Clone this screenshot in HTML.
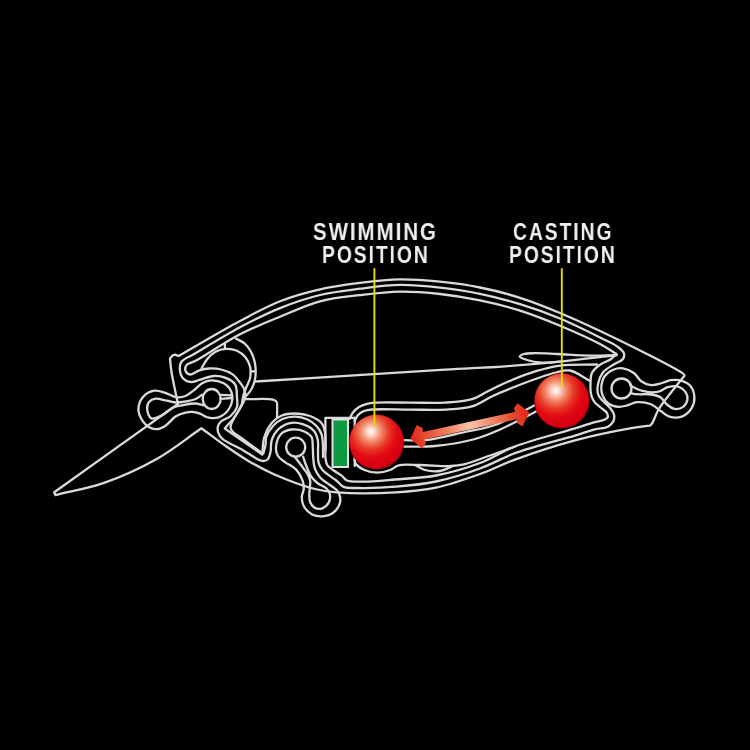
<!DOCTYPE html>
<html><head><meta charset="utf-8">
<style>
html,body{margin:0;padding:0;background:#000;width:750px;height:750px;overflow:hidden}
.t{position:absolute;font-family:"Liberation Sans",sans-serif;font-weight:bold;color:#f0f0f0;font-size:23px;letter-spacing:2.3px;line-height:24px;white-space:nowrap;transform-origin:0 0;will-change:transform;-webkit-font-smoothing:antialiased}
svg{position:absolute;left:0;top:0}
</style></head><body>
<svg width="750" height="750" viewBox="0 0 750 750">
<g>
<ellipse cx="211.7" cy="399" rx="9" ry="10" fill="none" stroke="#dadada" stroke-width="2.3"/>
<path d="M211.00,380.30 C207.87,380.42 205.19,381.51 202.50,383.00 C199.49,384.66 196.89,388.00 194.00,390.20 C191.22,392.32 188.57,394.86 185.50,396.00 C182.52,397.11 179.13,397.54 175.90,397.10 C172.37,396.62 168.82,393.87 165.20,392.80 C161.68,391.76 158.03,390.15 154.50,390.70 C150.63,391.30 145.66,393.79 143.00,397.00 C140.19,400.39 138.09,406.35 138.50,410.90 C138.93,415.63 142.60,421.76 146.00,424.80 C148.91,427.40 153.33,429.06 156.70,429.10 C159.69,429.13 162.37,427.62 165.20,425.90 C168.77,423.74 172.22,418.56 175.90,416.30 C179.02,414.39 182.57,413.33 185.50,412.60 C187.84,412.01 189.73,411.69 192.00,411.80 C194.54,411.93 197.54,412.69 200.00,413.60 C202.31,414.46 204.14,416.23 206.40,417.00 C208.67,417.77 211.15,418.33 213.60,418.20 C216.21,418.07 219.21,417.29 221.60,416.00 C224.02,414.70 226.33,412.59 228.00,410.40 C229.65,408.25 230.89,405.50 231.60,403.00 C232.25,400.69 232.58,398.33 232.30,396.00 C232.00,393.56 231.11,390.80 229.70,388.70 C228.26,386.55 226.29,384.65 223.70,383.30 C220.41,381.58 214.79,380.16 211.00,380.30Z" fill="none" stroke="#dadada" stroke-width="2.3" stroke-linejoin="round" stroke-linecap="round"/>
<path d="M202.20,394.70 C199.80,396.23 197.67,398.18 195.00,399.30 C192.14,400.50 188.69,400.97 185.50,401.50 C182.32,402.03 179.17,402.66 175.90,402.50 C172.42,402.33 168.68,400.95 165.20,400.30 C161.92,399.69 158.44,398.27 155.60,398.70 C153.13,399.07 150.42,400.28 149.00,402.00 C147.62,403.68 146.93,406.37 147.10,408.80 C147.31,411.76 148.89,417.28 151.30,418.40 C153.79,419.55 158.56,416.86 162.00,415.20 C165.72,413.40 168.98,409.41 172.70,407.70 C176.10,406.14 179.66,405.69 183.30,405.00 C187.08,404.28 191.38,403.37 195.00,403.50 C198.18,403.61 200.93,404.70 203.90,405.30" fill="none" stroke="#dadada" stroke-width="2.3" stroke-linejoin="round" stroke-linecap="round"/>
<path d="M220.5,394.8 L232,395.4" fill="none" stroke="#dadada" stroke-width="2.3" stroke-linejoin="round" stroke-linecap="round"/>
<path d="M220.5,398.8 L232,398" fill="none" stroke="#dadada" stroke-width="2.3" stroke-linejoin="round" stroke-linecap="round"/>
<path d="M181.40,361.70 C183.68,358.63 189.14,357.06 195.00,353.60 C205.63,347.33 225.29,335.11 240.00,327.30 C253.58,320.09 266.49,313.53 280.00,308.10 C293.16,302.81 306.54,298.24 320.00,295.00 C333.21,291.82 346.64,290.38 360.00,288.70 C373.31,287.02 386.66,285.08 400.00,284.90 C413.33,284.72 426.70,286.12 440.00,287.60 C453.37,289.08 466.74,291.05 480.00,293.80 C493.40,296.57 506.76,300.12 520.00,304.20 C533.43,308.34 546.80,313.02 560.00,318.50 C573.47,324.09 589.22,332.06 600.00,337.50 C607.46,341.26 614.55,344.22 618.70,347.50 C621.25,349.52 623.45,351.37 624.00,353.50 C624.47,355.34 623.94,357.62 622.70,359.30 C621.03,361.57 616.46,362.61 613.30,364.70 C609.80,367.01 605.24,369.45 602.70,372.70 C600.34,375.73 598.97,379.68 598.20,383.30 C597.46,386.79 597.14,391.05 598.00,394.00 C598.71,396.42 600.77,398.49 602.00,400.00 C602.85,401.03 603.43,401.43 604.40,402.40 C605.88,403.88 608.39,405.97 610.00,408.00 C611.57,409.98 613.48,412.11 614.00,414.40 C614.51,416.65 614.17,419.58 613.20,421.60 C612.26,423.56 610.67,425.15 608.40,426.40 C605.05,428.24 599.10,428.23 594.00,429.60 C588.07,431.19 583.12,433.13 575.00,435.60 C560.61,439.98 532.15,446.96 515.00,453.20 C501.59,458.07 492.49,463.95 480.00,468.50 C466.32,473.49 450.44,478.45 436.00,481.50 C422.46,484.36 409.21,485.62 396.00,486.70 C383.12,487.75 367.29,488.22 357.70,488.00 C351.91,487.87 347.53,488.45 343.80,486.90 C340.66,485.60 339.22,482.84 336.30,480.50 C332.44,477.40 325.49,473.63 322.50,470.10 C320.41,467.63 319.37,465.41 318.60,462.60 C317.73,459.43 318.13,455.55 318.00,451.90 C317.86,448.09 318.55,443.80 317.80,440.20 C317.11,436.88 316.20,433.56 314.00,431.00 C311.47,428.06 306.75,425.51 302.70,424.20 C298.71,422.90 293.96,422.25 289.90,423.10 C285.75,423.97 281.16,426.57 278.10,429.50 C275.15,432.33 272.96,436.40 271.70,440.20 C270.47,443.91 271.34,448.56 270.50,452.00 C269.80,454.84 269.13,458.06 267.50,459.50 C266.16,460.69 264.44,461.18 262.20,460.90 C257.71,460.34 249.54,453.85 243.00,450.20 C236.16,446.39 225.97,442.26 222.00,438.50 C219.84,436.46 218.85,434.64 218.20,432.50 C217.57,430.46 217.46,427.89 218.00,426.00 C218.49,424.27 219.49,422.91 221.00,421.50 C223.16,419.48 227.93,418.42 230.60,416.00 C233.26,413.58 235.99,410.17 237.00,407.00 C237.91,404.14 237.23,401.30 237.00,398.00 C236.72,393.92 237.19,387.81 235.10,384.40 C233.20,381.30 229.28,379.30 225.80,377.90 C222.18,376.44 217.87,375.77 213.70,376.00 C209.13,376.26 203.64,378.82 199.50,379.90 C196.31,380.73 193.78,382.32 191.00,382.00 C188.10,381.67 184.37,379.97 182.50,377.70 C180.59,375.38 179.84,370.98 179.80,368.10 C179.77,365.76 179.93,363.68 181.40,361.70Z" fill="none" stroke="#dadada" stroke-width="2.3" stroke-linejoin="round" stroke-linecap="round"/>
<path d="M186.70,364.90 C188.18,362.95 191.20,363.09 195.00,361.10 C204.09,356.33 225.21,341.92 240.00,334.30 C253.51,327.34 266.60,322.22 280.00,316.70 C293.27,311.23 306.47,304.91 320.00,301.30 C333.15,297.79 346.64,296.72 360.00,295.10 C373.31,293.49 386.66,291.78 400.00,291.60 C413.33,291.42 426.70,292.54 440.00,294.00 C453.37,295.47 466.73,297.65 480.00,300.40 C493.40,303.17 506.78,306.43 520.00,310.60 C533.45,314.84 546.76,320.18 560.00,325.70 C573.43,331.30 589.69,338.54 600.00,344.00 C606.83,347.61 611.00,350.67 616.50,354.00 C614.57,355.77 613.06,357.67 610.70,359.30 C607.78,361.31 603.15,362.42 600.00,364.70 C596.94,366.91 593.58,369.49 592.00,372.70 C590.41,375.92 590.65,380.34 590.50,384.00 C590.36,387.43 590.42,391.13 591.00,394.00 C591.47,396.29 592.31,398.36 593.20,400.00 C593.90,401.29 594.56,402.09 595.60,403.20 C597.02,404.71 599.33,406.40 601.20,408.00 C603.07,409.60 605.78,411.00 606.80,412.80 C607.63,414.27 608.16,416.40 607.60,417.60 C607.06,418.78 605.28,419.30 603.60,420.00 C601.15,421.02 597.72,421.35 594.00,422.40 C588.72,423.89 583.12,425.89 575.00,428.40 C560.61,432.84 532.11,439.93 515.00,446.50 C501.55,451.67 492.54,458.30 480.00,463.00 C466.37,468.11 450.53,472.75 436.00,475.50 C422.21,478.11 407.83,478.45 395.00,479.50 C383.68,480.42 371.84,481.61 363.00,481.60 C356.75,481.59 350.72,482.10 347.00,480.50 C344.51,479.42 343.77,477.20 341.70,475.60 C339.23,473.68 335.55,471.90 333.00,470.00 C330.81,468.36 328.45,467.04 327.20,465.00 C325.99,463.02 325.82,460.71 325.50,458.00 C325.06,454.35 325.58,449.33 325.50,445.00 C325.42,440.67 325.80,435.88 325.00,432.00 C324.31,428.66 323.62,425.53 321.50,423.00 C319.00,420.01 314.24,417.58 310.00,416.00 C305.52,414.33 300.06,413.53 295.20,413.50 C290.50,413.48 285.32,413.97 281.30,415.70 C277.57,417.31 274.42,419.89 271.70,423.10 C268.60,426.76 265.89,431.94 264.30,437.00 C262.62,442.35 262.90,448.67 262.20,454.50 C249.73,445.83 237.27,437.17 224.80,428.50 C226.20,426.83 227.62,425.03 229.00,423.50 C230.25,422.12 231.35,421.40 232.70,419.70 C234.89,416.94 238.07,411.81 240.20,408.00 C242.10,404.60 244.37,401.23 245.00,398.00 C245.53,395.26 245.25,392.45 244.50,390.00 C243.78,387.63 242.36,385.78 240.70,383.50 C238.55,380.55 235.61,376.44 232.30,374.10 C229.06,371.81 224.98,370.43 221.10,369.50 C217.21,368.57 212.78,368.30 209.00,368.50 C205.63,368.68 202.61,369.33 199.50,370.30 C196.27,371.30 192.48,374.78 190.00,374.50 C188.21,374.30 186.31,372.78 185.70,371.30 C185.03,369.67 185.45,366.55 186.70,364.90Z" fill="none" stroke="#dadada" stroke-width="2.3" stroke-linejoin="round" stroke-linecap="round"/>
<path d="M201.50,368.50 C203.37,365.40 204.80,361.98 207.10,359.20 C209.45,356.37 212.33,353.42 215.50,351.70 C218.58,350.03 222.28,349.07 225.80,348.90 C229.44,348.72 233.69,349.35 237.00,350.80 C240.20,352.20 243.21,354.64 245.40,357.30 C247.57,359.95 249.30,363.33 250.10,366.70 C250.92,370.18 250.80,374.33 250.10,377.90 C249.41,381.42 247.20,384.82 246.00,388.00 C244.94,390.81 243.94,393.23 243.20,396.00 C242.43,398.88 242.55,402.08 241.50,405.00 C240.38,408.09 238.08,411.19 236.50,414.00 C235.10,416.48 233.52,418.65 232.50,421.00 C231.57,423.16 230.30,425.57 230.50,427.50 C230.68,429.18 231.74,430.59 233.00,432.00 C234.63,433.82 237.06,434.88 240.00,437.00 C245.05,440.65 253.67,447.00 260.50,452.00 C261.43,452.50 262.37,453.00 263.30,453.50 C264.03,450.67 265.02,447.81 265.50,445.00 C265.96,442.31 265.26,439.79 266.20,437.00 C267.43,433.37 270.60,428.58 273.50,425.50 C276.12,422.72 279.06,420.48 282.50,419.00 C286.22,417.40 291.05,416.52 295.20,416.60 C299.21,416.68 303.42,417.70 307.00,419.30 C310.51,420.86 314.03,423.38 316.50,426.00 C318.73,428.36 320.43,430.99 321.50,434.00 C322.66,437.26 322.65,441.25 322.90,445.00 C323.16,448.91 322.97,453.00 323.00,457.00" fill="none" stroke="#dadada" stroke-width="2.3" stroke-linejoin="round" stroke-linecap="round"/>
<path d="M236.10,338.70 C238.90,340.23 242.06,341.22 244.50,343.30 C247.07,345.49 249.31,348.61 251.00,351.70 C252.72,354.84 253.92,358.52 254.70,362.00 C255.46,365.39 255.74,369.04 255.70,372.30 C255.67,375.24 255.42,377.88 254.70,380.70 C253.92,383.77 252.67,387.24 251.00,390.00 C249.40,392.65 247.00,394.67 245.00,397.00" fill="none" stroke="#dadada" stroke-width="2.3" stroke-linejoin="round" stroke-linecap="round"/>
<path d="M224.9,343.5 L224.9,348.5" fill="none" stroke="#dadada" stroke-width="2.3" stroke-linejoin="round" stroke-linecap="round"/>
<path d="M250.5,371.3 L255.3,371.3" fill="none" stroke="#dadada" stroke-width="2.3" stroke-linejoin="round" stroke-linecap="round"/>
<path d="M255.50,381.50 C318.67,377.57 399.51,372.41 445.00,369.70 C470.59,368.18 485.44,367.69 505.00,366.30 C523.74,364.97 541.56,363.43 560.00,361.60 C578.72,359.74 597.67,357.33 616.50,355.20" fill="none" stroke="#dadada" stroke-width="2.3" stroke-linejoin="round" stroke-linecap="round"/>
<path d="M616.50,355.20 C607.67,355.33 599.31,355.76 590.00,355.60 C579.60,355.43 566.89,354.42 557.00,354.00 C548.93,353.66 541.07,353.09 535.00,353.20 C530.70,353.28 526.75,353.15 524.00,354.00 C522.15,354.57 519.67,355.63 519.70,356.50 C519.74,357.61 524.06,359.06 527.00,360.00 C531.04,361.29 536.75,362.30 542.00,362.60 C547.71,362.93 554.00,361.93 560.00,361.60" fill="none" stroke="#dadada" stroke-width="2.3" stroke-linejoin="round" stroke-linecap="round"/>
<path d="M245.00,399.20 C254.33,399.33 268.12,398.12 273.00,399.60 C274.94,400.19 275.98,400.78 276.70,402.00 C277.54,403.43 277.03,405.80 277.10,408.00 C277.19,410.70 277.10,414.00 277.10,417.00" fill="none" stroke="#dadada" stroke-width="2.3" stroke-linejoin="round" stroke-linecap="round"/>
<circle cx="295.7" cy="447.2" r="9.5" fill="none" stroke="#dadada" stroke-width="2.3"/>
<path d="M295.00,457.00 C297.90,460.90 301.35,465.47 303.70,468.70 C305.34,470.96 306.71,472.44 307.80,474.50 C308.87,476.54 309.86,478.76 310.20,481.00 C310.54,483.26 309.95,485.67 309.80,488.00 C309.65,490.33 309.24,492.65 309.30,495.00 C309.36,497.41 309.26,500.15 310.20,502.30 C311.13,504.45 312.89,506.90 314.90,507.90 C316.92,508.91 320.05,509.10 322.30,508.30 C324.76,507.42 327.66,504.74 328.90,502.30 C330.10,499.94 330.33,496.41 329.80,494.00 C329.34,491.89 328.13,490.11 326.50,488.50 C324.48,486.50 320.53,485.46 318.00,483.50 C315.55,481.61 313.20,479.36 311.50,477.00 C309.93,474.83 309.06,472.36 308.00,470.00 C306.96,467.69 306.02,465.28 305.20,463.00 C304.44,460.88 303.87,458.87 303.20,456.80" fill="none" stroke="#dadada" stroke-width="2.3" stroke-linejoin="round" stroke-linecap="round"/>
<path d="M276.00,447.70 C276.23,443.67 278.07,437.04 281.00,434.00 C283.64,431.26 288.13,429.92 292.00,429.50 C296.05,429.06 301.37,430.17 304.80,431.70 C307.58,432.94 310.14,434.57 311.50,437.00 C313.03,439.73 312.52,444.21 312.80,447.70 C313.07,451.03 312.88,454.13 313.20,457.50 C313.55,461.12 313.66,465.25 314.90,468.70 C316.12,472.07 318.02,475.28 320.50,478.00 C323.18,480.94 327.61,483.03 330.70,485.50 C333.44,487.69 336.63,489.25 338.20,492.00 C339.81,494.82 340.76,499.00 340.10,502.30 C339.39,505.85 336.50,510.17 333.50,512.50 C330.54,514.80 325.98,516.04 322.30,516.30 C318.85,516.55 315.12,515.99 312.10,514.40 C308.87,512.70 305.40,509.15 303.70,506.00 C302.18,503.18 301.73,499.63 301.80,496.70 C301.86,494.06 303.53,491.79 303.70,489.20 C303.88,486.50 303.67,483.70 302.70,480.80 C301.50,477.22 299.11,472.70 296.20,469.60 C293.24,466.44 288.23,464.57 285.00,462.10 C282.32,460.05 279.50,458.47 278.00,456.00 C276.56,453.63 275.82,450.78 276.00,447.70Z" fill="none" stroke="#dadada" stroke-width="2.3" stroke-linejoin="round" stroke-linecap="round"/>
<circle cx="621.5" cy="388.5" r="10" fill="none" stroke="#dadada" stroke-width="2.3"/>
<path d="M601.30,387.20 C601.54,383.71 602.71,378.96 604.80,376.00 C606.78,373.20 610.11,370.98 613.20,369.70 C616.20,368.46 619.69,367.85 623.00,368.30 C626.68,368.80 631.10,370.93 634.20,373.20 C637.09,375.31 638.39,379.22 641.20,381.20 C644.00,383.18 647.57,384.77 651.00,385.10 C654.56,385.45 658.76,383.89 662.20,383.00 C665.23,382.21 667.76,380.66 670.60,380.20 C673.36,379.75 676.08,379.51 679.00,380.20 C682.56,381.04 687.63,382.95 690.20,385.80 C692.71,388.59 694.19,393.23 694.40,397.00 C694.61,400.70 693.58,404.99 691.60,408.20 C689.51,411.59 685.56,415.21 681.80,416.60 C678.08,417.97 672.83,417.70 669.20,416.60 C665.95,415.62 663.70,412.96 660.80,411.00 C657.65,408.88 654.75,405.77 651.00,404.30 C646.91,402.69 641.21,401.85 637.00,402.20 C633.40,402.50 630.37,404.62 627.20,405.40 C624.32,406.11 621.69,406.96 618.80,406.80 C615.64,406.62 611.67,405.84 609.00,404.00 C606.29,402.13 603.97,398.56 602.70,395.60 C601.56,392.93 601.09,390.18 601.30,387.20Z" fill="none" stroke="#dadada" stroke-width="2.3" stroke-linejoin="round" stroke-linecap="round"/>
<path d="M630.20,385.30 C632.13,386.37 633.97,387.58 636.00,388.50 C638.09,389.45 640.17,390.28 642.60,390.90 C645.42,391.62 649.09,392.25 652.00,392.30 C654.50,392.34 656.60,392.20 659.00,391.50 C661.83,390.67 664.70,388.03 667.80,387.20 C670.90,386.37 674.61,385.62 677.60,386.50 C680.69,387.41 684.42,390.30 686.00,392.80 C687.30,394.86 687.79,397.54 687.40,399.80 C686.98,402.22 685.25,405.28 683.20,406.80 C681.09,408.36 677.52,409.29 674.80,408.90 C671.91,408.49 668.78,405.98 666.40,404.00 C664.16,402.14 663.20,399.07 660.80,397.50 C658.17,395.79 654.60,395.08 651.00,394.50 C646.79,393.82 640.77,394.53 637.00,394.20 C634.41,393.97 632.67,393.53 630.50,393.20" fill="none" stroke="#dadada" stroke-width="2.3" stroke-linejoin="round" stroke-linecap="round"/>
<path d="M349.60,418.90 C350.73,416.77 351.50,414.44 353.00,412.50 C354.59,410.45 356.71,408.44 359.00,407.00 C361.36,405.52 364.29,404.53 367.00,403.80 C369.63,403.09 371.38,402.87 375.00,402.60 C382.53,402.04 398.33,402.60 410.00,402.60 C421.67,402.60 434.11,403.28 445.00,402.60 C454.60,402.00 464.34,401.52 472.00,399.20 C478.21,397.32 482.11,394.05 488.00,391.20 C495.17,387.73 503.93,383.36 512.00,380.00 C519.93,376.70 527.93,373.61 536.00,371.20 C543.93,368.83 551.07,366.76 560.00,365.60 C570.94,364.18 584.67,364.87 597.00,364.50" fill="none" stroke="#dadada" stroke-width="2.3" stroke-linejoin="round" stroke-linecap="round"/>
<path d="M354.90,420.50 C355.93,418.67 356.56,416.55 358.00,415.00 C359.54,413.34 361.75,411.92 364.00,411.00 C366.39,410.03 368.32,409.84 372.00,409.50 C379.95,408.77 397.59,409.58 410.00,409.60 C421.91,409.62 434.11,410.24 445.00,409.60 C454.60,409.03 463.78,408.86 472.00,406.40 C479.60,404.12 485.34,399.40 492.80,396.00 C501.20,392.18 511.18,388.23 520.00,384.80 C528.22,381.60 537.34,378.19 544.00,376.00 C548.66,374.47 551.81,373.41 556.00,372.50 C560.45,371.54 565.06,369.65 570.00,370.50 C576.24,371.58 583.33,377.50 590.00,381.00" fill="none" stroke="#dadada" stroke-width="2.3" stroke-linejoin="round" stroke-linecap="round"/>
<path d="M354.50,459.50 C355.00,461.00 354.93,462.56 356.00,464.00 C357.58,466.13 361.21,468.56 364.50,470.00 C368.19,471.61 373.03,472.70 377.30,472.70 C381.57,472.70 386.35,471.39 390.10,470.00 C393.35,468.80 395.05,466.26 398.70,465.30 C404.09,463.88 412.24,464.93 420.00,465.00 C429.37,465.09 442.89,466.40 451.00,466.00 C456.27,465.74 458.99,465.46 464.00,464.30 C471.25,462.62 481.43,458.49 490.00,455.50 C498.43,452.56 506.67,449.50 515.00,446.50" fill="none" stroke="#dadada" stroke-width="2.3" stroke-linejoin="round" stroke-linecap="round"/>
<path d="M416.00,465.50 C419.00,467.00 421.51,469.05 425.00,470.00 C429.27,471.16 435.25,471.72 440.00,471.00 C444.57,470.31 448.67,467.67 453.00,466.00" fill="none" stroke="#dadada" stroke-width="2.3" stroke-linejoin="round" stroke-linecap="round"/>
<path d="M404.00,440.20 C411.00,440.20 416.93,441.02 425.00,440.20 C436.25,439.06 452.64,434.71 465.00,432.00 C475.74,429.65 484.24,428.89 495.00,425.00 C508.75,420.03 525.00,410.00 540.00,402.50" fill="none" stroke="#dadada" stroke-width="2.3" stroke-linejoin="round" stroke-linecap="round"/>
<path d="M404.00,446.60 C414.33,446.40 424.05,447.06 435.00,446.00 C447.53,444.79 463.49,442.14 475.00,439.00 C484.15,436.51 490.05,433.90 499.00,430.00 C510.97,424.78 526.33,416.33 540.00,409.50" fill="none" stroke="#dadada" stroke-width="2.3" stroke-linejoin="round" stroke-linecap="round"/>
<rect x="332.5" y="419.5" width="15.5" height="47.5" fill="#0b9a42" stroke="#e0e0e0" stroke-width="2"/>
<path d="M325.4,450 L325.4,417.8 L355,417.8" fill="none" stroke="#dadada" stroke-width="2.3" stroke-linejoin="round" stroke-linecap="round"/>
<path d="M354.7,418 L354.7,466" fill="none" stroke="#dadada" stroke-width="2.3" stroke-linejoin="round" stroke-linecap="round"/>
<path d="M178.00,404.00 C175.83,393.33 172.82,380.42 171.50,372.00 C170.65,366.57 170.50,363.00 170.00,358.50 C170.90,357.43 171.80,356.37 172.70,355.30 C173.47,355.10 174.23,354.90 175.00,354.70 C176.23,355.13 177.47,355.57 178.70,356.00 C184.13,352.83 188.20,350.41 195.00,346.50 C206.26,340.03 225.34,328.78 240.00,321.00 C253.62,313.78 266.44,306.53 280.00,301.20 C293.12,296.05 306.57,292.38 320.00,289.30 C333.24,286.27 346.64,284.47 360.00,282.80 C373.30,281.14 386.66,279.48 400.00,279.30 C413.33,279.12 426.70,280.34 440.00,281.70 C453.36,283.07 466.74,284.84 480.00,287.50 C493.41,290.19 506.78,293.60 520.00,297.80 C533.45,302.07 544.52,306.44 560.00,313.00 C582.24,322.42 617.58,339.25 640.00,350.50 C656.64,358.85 678.34,369.61 682.90,373.50 C683.96,374.41 684.51,374.92 684.50,375.60 C684.49,376.25 683.77,376.52 683.00,377.50 C680.40,380.79 670.38,393.12 665.90,399.10 C662.82,403.21 660.64,405.81 658.40,409.70 C655.96,413.92 653.76,421.08 652.00,423.60 C651.23,424.71 650.60,425.00 649.90,425.70 C643.27,426.60 638.25,426.94 630.00,428.40 C616.19,430.84 593.61,435.40 575.00,440.40 C555.31,445.69 532.21,453.32 515.00,459.60 C501.66,464.47 492.44,469.53 480.00,474.00 C466.28,478.93 450.46,484.54 436.00,487.60 C422.48,490.46 410.69,491.44 396.00,492.30 C378.11,493.35 351.15,493.44 336.30,492.30 C327.38,491.61 323.10,491.05 315.00,489.00 C303.63,486.12 286.84,479.85 275.00,474.70 C265.04,470.37 256.58,465.73 248.30,460.90 C240.68,456.46 234.36,452.08 227.00,447.00 C218.79,441.33 209.93,434.53 201.40,428.30 C186.50,438.53 172.69,449.98 156.70,459.00 C140.08,468.38 120.89,477.09 103.30,483.20 C87.16,488.81 71.37,491.13 55.40,495.10 C55.00,494.17 54.60,493.23 54.20,492.30 C95.47,462.87 136.73,433.43 178.00,404.00Z" fill="none" stroke="#dadada" stroke-width="2.3" stroke-linejoin="round" stroke-linecap="round"/>
</g>
<defs><radialGradient id="g1" cx="371" cy="431.5" r="42.47" fx="371" fy="431.5" gradientUnits="userSpaceOnUse">
<stop offset="0" stop-color="#ffffff"/><stop offset="0.08" stop-color="#fcdcd0"/><stop offset="0.25" stop-color="#f28466"/><stop offset="0.42" stop-color="#e83a26"/><stop offset="0.6" stop-color="#e20a14"/><stop offset="0.8" stop-color="#d80012"/><stop offset="1" stop-color="#b0000c"/></radialGradient></defs>
<circle cx="376.5" cy="442" r="27.4" fill="url(#g1)" stroke="#5a0005" stroke-width="0.7" stroke-opacity="0.6"/>
<defs><radialGradient id="g2" cx="555.8" cy="390.6" r="42.625" fx="555.8" fy="390.6" gradientUnits="userSpaceOnUse">
<stop offset="0" stop-color="#ffffff"/><stop offset="0.08" stop-color="#fcdcd0"/><stop offset="0.25" stop-color="#f28466"/><stop offset="0.42" stop-color="#e83a26"/><stop offset="0.6" stop-color="#e20a14"/><stop offset="0.8" stop-color="#d80012"/><stop offset="1" stop-color="#b0000c"/></radialGradient></defs>
<circle cx="561.8" cy="400.8" r="27.5" fill="url(#g2)" stroke="#5a0005" stroke-width="0.7" stroke-opacity="0.6"/>
<defs><linearGradient id="ag" x1="0" y1="0" x2="121.8" y2="0" gradientUnits="userSpaceOnUse">
<stop offset="0" stop-color="#e4221a"/><stop offset="0.12" stop-color="#e64a2e"/><stop offset="0.32" stop-color="#ee8460"/><stop offset="0.5" stop-color="#f7c4aa"/><stop offset="0.7" stop-color="#ef8462"/><stop offset="0.85" stop-color="#e84c30"/><stop offset="1" stop-color="#e2221a"/></linearGradient></defs>
<g transform="translate(410.3,438.7) rotate(-12.37)"><path d="M0,0 L9.2,-11.9 L14.4,-7.6 L13.6,-3.8 L108.2,-3.8 L107.8,-7.7 L112.5,-11.7 L121.8,0 L112.2,12.1 L107.7,7.8 L108.2,3.8 L13.6,3.8 L14.3,7.7 L9.3,12.1 Z" fill="url(#ag)"/></g>
<path d="M374.4,268.3 V427.4" stroke="#e8dc00" stroke-width="1.9" fill="none"/>
<path d="M561.8,268.3 V387" stroke="#e8dc00" stroke-width="1.9" fill="none"/>
</svg>
<div class="t" style="left:313.2px;top:220px;transform:scaleX(0.8861)">SWIMMING</div>
<div class="t" style="left:322.1px;top:243px;transform:scaleX(0.8387)">POSITION</div>
<div class="t" style="left:512.7px;top:220px;transform:scaleX(0.8391)">CASTING</div>
<div class="t" style="left:508.9px;top:243.2px;transform:scaleX(0.8387)">POSITION</div>
</body></html>
